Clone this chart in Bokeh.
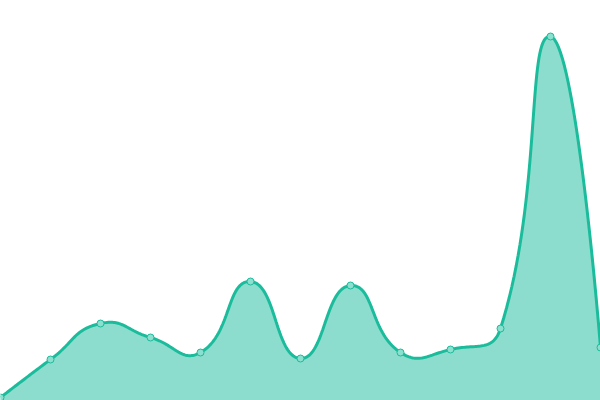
import numpy as np
from bokeh.plotting import figure
from bokeh.models import Range1d
from bokeh.embed import file_html
from bokeh.resources import INLINE

# data
categories = list(range(13))
values = [3, 41, 77, 63, 48, 119, 42, 115, 48, 51, 72, 364, 53]

W, H = 600, 400
X0, X1 = 0, 12
Y0, Y1 = 0, 400
LINE = "#1abc9c"

p = figure(width=W, height=H, output_backend="svg", toolbar_location=None,
           x_range=Range1d(X0, X1), y_range=Range1d(Y0, Y1), min_border=0)
p.axis.visible = False
p.grid.visible = False
p.outline_line_color = None

# smooth (ECharts-like bezier) computed in screen space
sx = W / (X1 - X0)
sy = H / (Y1 - Y0)
pts = np.array([[c * sx, v * sy] for c, v in zip(categories, values)], dtype=float)
smooth = 0.5
n = len(pts)
cps = []
for i in range(n):
    p_ = pts[i]
    if i == 0 or i == n - 1:
        cps.append((p_.copy(), p_.copy()))
        continue
    prev, nxt = pts[i - 1], pts[i + 1]
    v = nxt - prev
    d0 = np.hypot(*(p_ - prev))
    d1 = np.hypot(*(p_ - nxt))
    s = d0 + d1
    c0 = p_ - v * smooth * d0 / s
    c1 = p_ + v * smooth * d1 / s
    cps.append((c0, c1))

xs, ys = [], []
t = np.linspace(0, 1, 40)
for i in range(n - 1):
    P0 = pts[i]
    C1 = cps[i][1]
    C2 = cps[i + 1][0]
    P3 = pts[i + 1]
    bx = (1 - t) ** 3 * P0[0] + 3 * (1 - t) ** 2 * t * C1[0] + 3 * (1 - t) * t ** 2 * C2[0] + t ** 3 * P3[0]
    by = (1 - t) ** 3 * P0[1] + 3 * (1 - t) ** 2 * t * C1[1] + 3 * (1 - t) * t ** 2 * C2[1] + t ** 3 * P3[1]
    if i > 0:
        bx, by = bx[1:], by[1:]
    xs.extend(bx / sx)
    ys.extend(by / sy)

p.varea(x=xs, y1=[0] * len(xs), y2=ys, fill_color=LINE, fill_alpha=0.5)
p.line(x=xs, y=ys, line_color=LINE, line_width=3)
p.scatter(x=categories, y=values, size=7, fill_color="#8be0cf", line_color=LINE, line_width=1)

open("out.html", "w").write(file_html(p, INLINE))
